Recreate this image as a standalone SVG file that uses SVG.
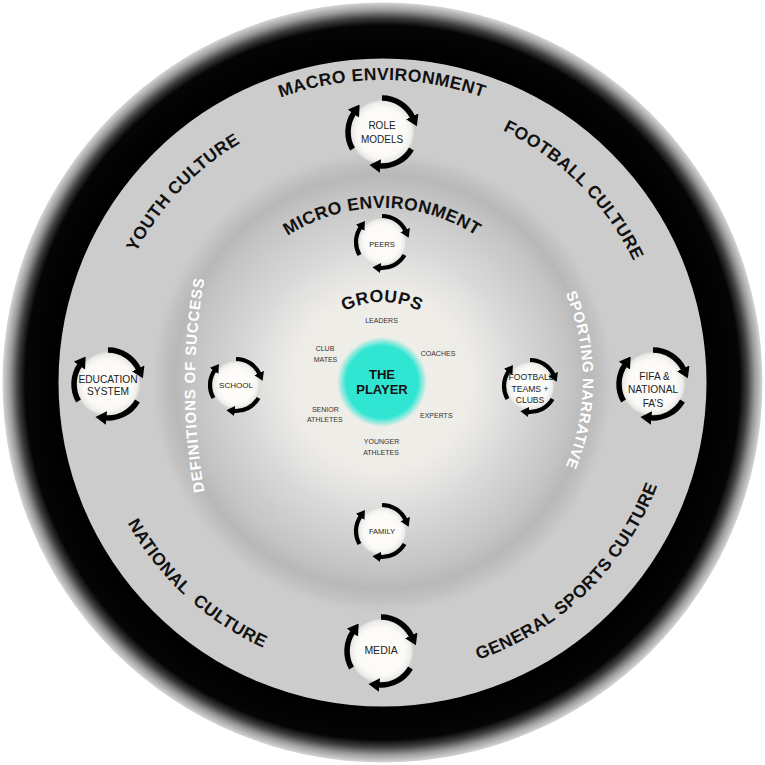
<svg xmlns="http://www.w3.org/2000/svg" width="765" height="765" viewBox="0 0 765 765">
<style>
text{font-family:"Liberation Sans",Arial,sans-serif}
.h{font-weight:bold;font-size:17.5px;fill:#111;letter-spacing:0.4px}
.w{font-weight:bold;font-size:15px;fill:#fff;letter-spacing:0.8px}
.g{font-size:7px;fill:#333;text-anchor:middle}
.n{fill:#222;text-anchor:middle}
.arcB{fill:none;stroke:#000;stroke-width:5.5;marker-end:url(#ah)}
.arcS{fill:none;stroke:#000;stroke-width:4.2;marker-end:url(#ah)}
</style>
<defs>
<marker id="ah" viewBox="0 0 8 10" refX="1" refY="5" markerWidth="2" markerHeight="2.5" orient="auto" markerUnits="strokeWidth"><path d="M0,0 L8,5 L0,10 z" fill="#000"/></marker>
<radialGradient id="ring" cx="382.5" cy="382.5" r="380" gradientUnits="userSpaceOnUse">
<stop offset="0.85" stop-color="#000"/>
<stop offset="0.94" stop-color="#050505"/>
<stop offset="0.96" stop-color="#404040"/>
<stop offset="0.98" stop-color="#9a9a9a"/>
<stop offset="1" stop-color="#d6d6d6"/>
</radialGradient>
<radialGradient id="micro" cx="382" cy="382" r="230" gradientUnits="userSpaceOnUse">
<stop offset="0.5" stop-color="#dfdfdf"/>
<stop offset="0.6" stop-color="#d8d8d8"/>
<stop offset="0.7" stop-color="#cfcfcf"/>
<stop offset="0.82" stop-color="#c4c4c4"/>
<stop offset="0.9" stop-color="#b8b8b8"/>
<stop offset="0.95" stop-color="#c1c1c1"/>
<stop offset="1" stop-color="#cccccc"/>
</radialGradient>
<radialGradient id="grp" cx="382" cy="382" r="135" gradientUnits="userSpaceOnUse">
<stop offset="0" stop-color="#f1efea"/>
<stop offset="0.66" stop-color="#eeece7"/>
<stop offset="0.8" stop-color="#e6e5e1"/>
<stop offset="1" stop-color="#dfdfdf" stop-opacity="0"/>
</radialGradient>
<radialGradient id="ply" cx="382" cy="382" r="45" gradientUnits="userSpaceOnUse">
<stop offset="0" stop-color="#30e6d3"/>
<stop offset="0.8" stop-color="#30e6d3"/>
<stop offset="0.88" stop-color="#30e6d3" stop-opacity="0.6"/>
<stop offset="1" stop-color="#30e6d3" stop-opacity="0"/>
</radialGradient>
<radialGradient id="nd">
<stop offset="0" stop-color="#fffefb"/>
<stop offset="0.75" stop-color="#fbfaf6"/>
<stop offset="0.92" stop-color="#eeede9"/>
<stop offset="1" stop-color="#d8d8d8"/>
</radialGradient>
<path id="pMacro" d="M80,382 A302,302 0 0 1 684,382"/>
<path id="pYouth" d="M115.3,460.5 A278,278 0 0 1 447.4,111.8"/>
<path id="pFootball" d="M309.8,112.5 A279,279 0 0 1 651.5,454.2"/>
<path id="pNational" d="M97.9,319 A291,291 0 0 0 469.5,659.5"/>
<path id="pGeneral" d="M302.4,665 A294,294 0 0 0 666.9,309.4"/>
<path id="pMicro" d="M208,382 A174,174 0 0 1 556,382"/>
<path id="pDef" d="M208.1,509.7 A600,600 0 0 1 208.1,260.3"/>
<path id="pSport" d="M561.8,284.5 A226,226 0 0 1 561.8,475.5"/>
<path id="pGroups" d="M302,382 A80,80 0 0 1 462,382"/>
<g id="cycB">
<circle r="32" fill="url(#nd)"/>
<path class="arcB" d="M0,-34 A34,34 0 0 1 30.81,-14.37"/>
<path class="arcB" d="M29.44,17 A34,34 0 0 1 -2.96,33.87"/>
<path class="arcB" d="M-29.44,17 A34,34 0 0 1 -27.85,-19.5"/>
</g>
<g id="cycS">
<circle r="24" fill="url(#nd)"/>
<path class="arcS" d="M0,-26 A26,26 0 0 1 23.56,-10.99"/>
<path class="arcS" d="M22.52,13 A26,26 0 0 1 -2.27,25.9"/>
<path class="arcS" d="M-22.52,13 A26,26 0 0 1 -21.3,-14.91"/>
</g>
</defs>
<rect width="765" height="765" fill="#fff"/>
<g id="background">
<circle cx="382.5" cy="382.5" r="380" fill="url(#ring)"/>
<circle cx="382.5" cy="382.5" r="324" fill="#cccccc"/>
<circle cx="382" cy="382" r="230" fill="url(#micro)"/>
<circle cx="382" cy="382" r="135" fill="url(#grp)"/>
</g>
<g id="ring-labels">
<text class="h"><textPath href="#pMacro" startOffset="50%" text-anchor="middle">MACRO ENVIRONMENT</textPath></text>
<text class="h"><textPath href="#pYouth" startOffset="50%" text-anchor="middle">YOUTH CULTURE</textPath></text>
<text class="h"><textPath href="#pFootball" startOffset="50%" text-anchor="middle">FOOTBALL CULTURE</textPath></text>
<text class="h" xml:space="preserve"><textPath href="#pNational" startOffset="50%" text-anchor="middle">NATIONAL  CULTURE</textPath></text>
<text class="h"><textPath href="#pGeneral" startOffset="50%" text-anchor="middle">GENERAL SPORTS CULTURE</textPath></text>
<text class="h"><textPath href="#pMicro" startOffset="50%" text-anchor="middle">MICRO ENVIRONMENT</textPath></text>
<text class="w"><textPath href="#pDef" startOffset="50%" text-anchor="middle">DEFINITIONS OF SUCCESS</textPath></text>
<text class="w" style="letter-spacing:0.5px"><textPath href="#pSport" startOffset="50%" text-anchor="middle">SPORTING NARRATIVE</textPath></text>
<text class="h"><textPath href="#pGroups" startOffset="50%" text-anchor="middle">GROUPS</textPath></text>
</g>
<g id="connectors"></g>
<g id="node-player">
<circle cx="382" cy="382" r="45" fill="url(#ply)"/>
<text x="382" y="378.5" text-anchor="middle" font-weight="bold" font-size="13" fill="#111">THE</text>
<text x="382" y="393.5" text-anchor="middle" font-weight="bold" font-size="13" fill="#111">PLAYER</text>
</g>
<g id="group-labels">
<text class="g" x="381.5" y="322.7">LEADERS</text>
<text class="g" x="325" y="350.7">CLUB</text>
<text class="g" x="325.5" y="361.7">MATES</text>
<text class="g" x="438" y="355.7">COACHES</text>
<text class="g" x="325.3" y="411.7">SENIOR</text>
<text class="g" x="324.8" y="421.7">ATHLETES</text>
<text class="g" x="436.3" y="418">EXPERTS</text>
<text class="g" x="381.5" y="444">YOUNGER</text>
<text class="g" x="381" y="454.7">ATHLETES</text>
</g>
<g id="node-role-models" transform="translate(382,132)">
<use href="#cycB"/>
<text class="n" font-size="10" y="-3">ROLE</text>
<text class="n" font-size="10" y="11">MODELS</text>
</g>
<g id="node-education" transform="translate(108,384)">
<use href="#cycB"/>
<text class="n" font-size="10.2" y="-1">EDUCATION</text>
<text class="n" font-size="10.2" y="11">SYSTEM</text>
</g>
<g id="node-fifa" transform="translate(653,384)">
<use href="#cycB"/>
<text class="n" font-size="10.2" x="1.5" y="-4">FIFA &amp;</text>
<text class="n" font-size="10.2" y="9.3">NATIONAL</text>
<text class="n" font-size="10.2" y="22.7">FA’S</text>
</g>
<g id="node-media" transform="translate(381,651)">
<use href="#cycB"/>
<text class="n" font-size="10.5" y="3">MEDIA</text>
</g>
<g id="node-peers" transform="translate(382,242)">
<use href="#cycS"/>
<text class="n" font-size="7.5" y="5">PEERS</text>
</g>
<g id="node-school" transform="translate(236,385)">
<use href="#cycS"/>
<text class="n" font-size="8" y="3">SCHOOL</text>
</g>
<g id="node-football" transform="translate(530,386)">
<use href="#cycS"/>
<text class="n" font-size="8.6" x="1" y="-6">FOOTBALL</text>
<text class="n" font-size="8.6" y="5.7">TEAMS +</text>
<text class="n" font-size="8.6" y="16.7">CLUBS</text>
</g>
<g id="node-family" transform="translate(382,531)">
<use href="#cycS"/>
<text class="n" font-size="7.5" y="3">FAMILY</text>
</g>
</svg>
